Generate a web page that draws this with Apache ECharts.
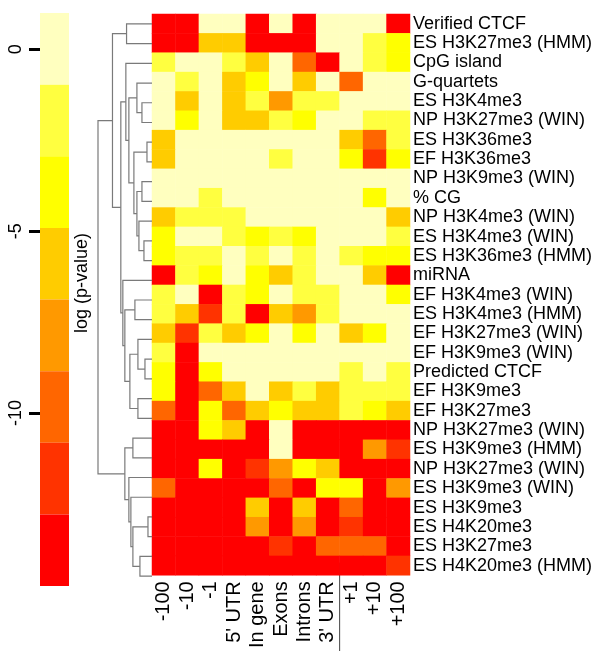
<!DOCTYPE html>
<html><head><meta charset="utf-8">
<script src="https://cdn.jsdelivr.net/npm/echarts@6/dist/echarts.min.js"></script>
<style>html,body{margin:0;padding:0;background:#fff}#c{width:607px;height:651px}</style>
</head><body><div id="c"></div>
<script>
// ---- data ----
const columns = ['-100', '-10', '-1', "5' UTR", 'In gene', 'Exons', 'Introns', "3' UTR", '+1', '+10', '+100'];
const rowLabels = ['Verified CTCF', 'ES H3K27me3 (HMM)', 'CpG island', 'G-quartets', 'ES H3K4me3',
  'NP H3K27me3 (WIN)', 'ES H3K36me3', 'EF H3K36me3', 'NP H3K9me3 (WIN)', '% CG', 'NP H3K4me3 (WIN)',
  'ES H3K4me3 (WIN)', 'ES H3K36me3 (HMM)', 'miRNA', 'EF H3K4me3 (WIN)', 'ES H3K4me3 (HMM)',
  'EF H3K27me3 (WIN)', 'EF H3K9me3 (WIN)', 'Predicted CTCF', 'EF H3K9me3', 'EF H3K27me3',
  'NP H3K27me3 (WIN)', 'ES H3K9me3 (HMM)', 'NP H3K27me3 (WIN)', 'ES H3K9me3 (WIN)', 'ES H3K9me3',
  'ES H4K20me3', 'ES H3K27me3', 'ES H4K20me3 (HMM)'];
// log(p-value) per row (estimated from colour bins)
const logP = [
  [-14,-14,0,0,-14,0,-14,0,0,0,-14],
  [-14,-14,-6,-6,-14,-14,-14,0,0,-2,-4],
  [-2,0,0,-2,-6,0,-10,-14,0,-2,-4],
  [0,-2,0,-6,-4,0,-6,0,-10,0,0],
  [0,-6,0,-6,-2,-8,-2,-2,0,0,0],
  [0,-4,0,-6,-6,-2,-4,0,0,-2,-2],
  [-6,0,0,0,0,0,0,0,-6,-10,-2],
  [-6,0,0,0,0,-2,0,0,-4,-12,-4],
  [0,0,0,0,0,0,0,0,0,0,0],
  [0,0,-2,0,0,0,0,0,0,-4,0],
  [-6,-2,-2,-2,0,0,0,0,0,0,-6],
  [-4,0,0,-2,-4,-2,-4,0,0,0,-2],
  [-4,-2,-2,0,-2,0,-2,0,-2,-4,-4],
  [-14,-2,-4,0,-4,-6,-2,0,0,-6,-14],
  [-2,0,-14,-2,-4,0,-2,-2,0,0,-4],
  [-2,-6,-12,-2,-14,-6,-8,-2,0,0,0],
  [-6,-12,-2,-6,-4,0,-4,0,-6,-4,0],
  [-2,-14,0,0,0,0,0,0,0,0,0],
  [-4,-14,-4,0,0,0,0,0,-2,0,-2],
  [-4,-14,-10,-6,0,-6,-2,-6,-2,-2,-2],
  [-10,-14,-4,-10,-6,-4,-6,-6,-2,-4,-6],
  [-14,-14,-4,-6,-14,0,-14,-14,-14,-14,-14],
  [-14,-14,-14,-14,-14,0,-14,-14,-14,-8,-12],
  [-14,-14,-4,-14,-12,-8,-4,-6,-14,-14,-14],
  [-10,-14,-14,-14,-14,-10,-14,-4,-4,-14,-8],
  [-14,-14,-14,-14,-6,-14,-6,-14,-10,-14,-14],
  [-14,-14,-14,-14,-8,-14,-8,-14,-12,-14,-14],
  [-14,-14,-14,-14,-14,-12,-14,-10,-10,-10,-14],
  [-14,-14,-14,-14,-14,-14,-14,-14,-14,-14,-12]
];
// colour bins (top to bottom of the colour key)
const binBreaks = [1, -0.97, -2.94, -4.91, -6.88, -8.85, -10.82, -12.79, -14.76];
const binColors = ['#FFFFBF', '#FFFF40', '#FFFF00', '#FFCC00', '#FF9900', '#FF6600', '#FF3300', '#FF0000'];
const keyTicks = [0, -5, -10];
// dendrogram merges: [childA, childB, height]; numbers = row index, strings = node id
const merges = {
  n1: [0, 1, 25.3], n2: [4, 5, 10], n3: [3, 'n2', 15], n4: [6, 7, 5], n5: [8, 9, 10],
  n6: [11, 12, 8], n7: [10, 'n6', 13], n8: ['n5', 'n7', 15], n9: ['n4', 'n8', 18],
  n10: ['n3', 'n9', 23], n11: [2, 'n10', 26], n12: [14, 15, 17], n13: [17, 18, 7],
  n14: [16, 'n13', 14], n15: [19, 20, 14], n16: ['n14', 'n15', 22], n17: ['n12', 'n16', 27],
  n18: [13, 'n17', 29], n19: ['n11', 'n18', 31], n20: ['n1', 'n19', 39.3], n21: [21, 22, 19],
  n22: [25, 26, 4], n23: [27, 28, 12], n24: ['n22', 'n23', 19], n25: [24, 'n24', 21],
  n26: [23, 'n25', 23], n27: ['n21', 'n26', 27], n28: ['n20', 'n27', 53.7]
};

// ---- build ----
const FONT = "'Liberation Sans', Arial, Helvetica, sans-serif";
const heatData = [];
logP.forEach((row, r) => row.forEach((v, c) => heatData.push([c, r, v])));

const pieces = binColors.map((col, i) => ({ min: binBreaks[i + 1], max: binBreaks[i], color: col }));
const keyData = binColors.map((col, i) => [0, binBreaks[i], binBreaks[i + 1], col]);

const pos = {};
function nodePos(k) {
  if (typeof k === 'number') return [0, k];
  if (pos[k]) return pos[k];
  const m = merges[k];
  const a = nodePos(m[0]), b = nodePos(m[1]);
  pos[k] = [m[2], (a[1] + b[1]) / 2];
  return pos[k];
}
const dendroData = Object.keys(merges).map(k => {
  const m = merges[k];
  const a = nodePos(m[0]), b = nodePos(m[1]);
  nodePos(k);
  return [a[0], a[1], b[0], b[1], m[2]];
});
const maxH = merges.n28[2];

const chart = echarts.init(document.getElementById('c'), null, { renderer: 'canvas' });
const option = {
  animation: false,
  backgroundColor: '#fff',
  textStyle: { fontFamily: FONT },
  grid: [
    { left: 152, top: 14, width: 258, height: 572 },
    { left: 98, top: 14, width: 54, height: 572 },
    { left: 40, top: 13, width: 29, height: 573 }
  ],
  xAxis: [
    { type: 'category', gridIndex: 0, data: columns, position: 'bottom',
      axisLine: { show: false }, axisTick: { show: false },
      axisLabel: { rotate: 90, interval: 0, fontSize: 20, color: '#000', margin: 6, fontFamily: FONT } },
    { type: 'value', gridIndex: 1, min: 0, max: maxH, inverse: true, show: false },
    { type: 'category', gridIndex: 2, data: ['key'], show: false }
  ],
  yAxis: [
    { type: 'category', gridIndex: 0, data: rowLabels, inverse: true, position: 'right',
      axisLine: { show: false }, axisTick: { show: false },
      axisLabel: { interval: 0, fontSize: 18, color: '#000', margin: 3, fontFamily: FONT } },
    { type: 'value', gridIndex: 1, min: -0.5, max: rowLabels.length - 0.5, inverse: true, show: false },
    { type: 'value', gridIndex: 2, min: binBreaks[binBreaks.length - 1], max: binBreaks[0], position: 'left',
      splitLine: { show: false }, axisLine: { show: false },
      axisTick: { show: true, length: 11, lineStyle: { color: '#000', width: 3 }, customValues: keyTicks },
      axisLabel: { rotate: 90, fontSize: 18, color: '#000', margin: 15, fontFamily: FONT, customValues: keyTicks } }
  ],
  visualMap: { type: 'piecewise', show: false, seriesIndex: 0, dimension: 2, pieces: pieces },
  series: [
    { type: 'heatmap', xAxisIndex: 0, yAxisIndex: 0, data: heatData, itemStyle: { borderWidth: 0 },
      emphasis: { disabled: true } },
    { type: 'custom', xAxisIndex: 1, yAxisIndex: 1, data: dendroData, silent: true,
      renderItem: function (params, api) {
        const p1 = api.coord([api.value(0), api.value(1)]);
        const p2 = api.coord([api.value(4), api.value(1)]);
        const p3 = api.coord([api.value(4), api.value(3)]);
        const p4 = api.coord([api.value(2), api.value(3)]);
        return { type: 'polyline', shape: { points: [p1, p2, p3, p4] },
          style: { stroke: '#7a7a7a', lineWidth: 1.2, fill: null } };
      } },
    { type: 'custom', xAxisIndex: 2, yAxisIndex: 2, data: keyData, silent: true,
      renderItem: function (params, api) {
        const top = api.coord([0, api.value(1)]);
        const bot = api.coord([0, api.value(2)]);
        const w = api.size([1, 0])[0];
        return { type: 'rect', shape: { x: top[0] - w / 2, y: top[1], width: w, height: bot[1] - top[1] },
          style: { fill: binColors[params.dataIndex] } };
      } }
  ]
};
chart.setOption(option);

// annotations
const c7 = chart.convertToPixel({ xAxisIndex: 0 }, 7);
const c8 = chart.convertToPixel({ xAxisIndex: 0 }, 8);
const rLast = chart.convertToPixel({ yAxisIndex: 0 }, rowLabels.length - 1);
chart.setOption({
  graphic: [
    { type: 'line', shape: { x1: (c7 + c8) / 2, y1: rLast - 3, x2: (c7 + c8) / 2, y2: 651 },
      style: { stroke: '#444', lineWidth: 1 } },
    { type: 'text', x: 82, y: 283, rotation: Math.PI / 2,
      style: { text: 'log (p-value)', fontSize: 18, fontFamily: FONT, fill: '#000', align: 'center', verticalAlign: 'middle' } }
  ]
});
</script></body></html>
